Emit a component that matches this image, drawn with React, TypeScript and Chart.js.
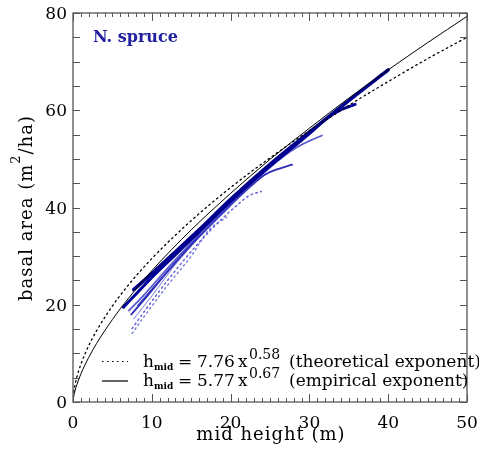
import React, { useEffect, useRef } from "react";
import { Chart, registerables } from "chart.js";
Chart.register(...registerables);

// axis ticks
const xTickValues = [0, 10, 20, 30, 40, 50];
const yTickValues = [0, 20, 40, 60, 80];

// theoretical exponent curve (dotted)
const theoX = [0, 0.1, 0.25, 0.5, 1, 2, 3, 5, 7, 10, 15, 20, 25, 30, 35, 40, 45, 50];
const theoY = [0, 2.04, 3.48, 5.19, 7.76, 11.6, 14.67, 19.74, 24.0, 29.5, 37.3, 44.1, 50.2, 55.8, 61.0, 65.9, 70.6, 75.0];

// empirical exponent curve (solid)
const empX = [0, 0.1, 0.25, 0.5, 1, 2, 3, 5, 7, 10, 15, 20, 25, 30, 35, 40, 45, 50];
const empY = [0, 1.23, 2.28, 3.62, 5.77, 9.18, 12.05, 16.96, 21.25, 27.0, 35.4, 42.9, 49.9, 56.3, 62.5, 68.3, 73.9, 79.3];

// stand trajectories (blue)
const trajAx = [7.7, 10, 13, 16, 20, 25, 30, 35, 40];
const trajAy = [23.1, 26.4, 30.9, 35.4, 41.7, 48.9, 55.5, 62.0, 68.3];
const trajBx = [6.4, 8, 10, 13, 16, 20, 25, 28, 30, 32.2, 34, 35.8];
const trajBy = [19.5, 22.2, 25.6, 30.3, 35.0, 41.2, 48.5, 52.5, 55.2, 58.3, 60.1, 61.2];
const trajCx = [7.1, 9, 12, 16, 20, 24, 26, 28, 30, 31.6];
const trajCy = [18.8, 22.0, 27.5, 34.4, 40.8, 46.8, 49.6, 52.0, 53.7, 54.8];
const trajDx = [7.4, 9, 12, 16, 20, 22.5, 24.4, 26, 27.8];
const trajDy = [18.0, 21.0, 26.8, 34.0, 40.5, 44.3, 46.8, 47.9, 48.8];
const trajEx = [7.5, 9, 12, 16, 19, 21.2, 22.3, 23.9];
const trajEy = [15.1, 18.5, 25.0, 32.8, 37.8, 41.0, 42.4, 43.3];
const trajFx = [7.5, 9, 12, 15, 17.2, 19.5];
const trajFy = [14.1, 17.5, 24.0, 30.0, 35.3, 38.0];
const trajGx = [7.7, 10, 13, 16, 20];
const trajGy = [17.1, 21.8, 28.3, 33.8, 40.3];
const trajHx = [8.2, 10, 13, 16];
const trajHy = [19.8, 23.2, 28.8, 34.3];

const FONT = "'DejaVu Serif', serif";

function series(xs: number[], ys: number[], color: string, width: number, dash: number[] = []) {
  return {
    data: xs.map((x, i) => ({ x, y: ys[i] })),
    borderColor: color,
    backgroundColor: color,
    borderWidth: width,
    borderDash: dash,
    pointRadius: 0,
    fill: false,
    cubicInterpolationMode: "monotone" as const,
    borderCapStyle: "round" as const,
  };
}

const deco = {
  id: "deco",
  afterDatasetsDraw(chart: any) {
    const ctx = chart.ctx as CanvasRenderingContext2D;
    const { left, right, top, bottom } = chart.chartArea;
    const xs = chart.scales.x;
    const ys = chart.scales.y;
    ctx.save();
    // frame
    ctx.strokeStyle = "#555";
    ctx.lineWidth = 1.3;
    ctx.strokeRect(left, top, right - left, bottom - top);
    // ticks
    ctx.lineWidth = 1;
    ctx.beginPath();
    for (let v = 0; v <= 50; v += 1) {
      const px = Math.round(xs.getPixelForValue(v)) + 0.5;
      const len = v % 10 === 0 ? 8 : 4;
      ctx.moveTo(px, bottom);
      ctx.lineTo(px, bottom - len);
      ctx.moveTo(px, top);
      ctx.lineTo(px, top + len);
    }
    for (let v = 0; v <= 80; v += 5) {
      const py = Math.round(ys.getPixelForValue(v)) + 0.5;
      ctx.moveTo(left, py);
      ctx.lineTo(left + 7, py);
      ctx.moveTo(right, py);
      ctx.lineTo(right - 7, py);
    }
    ctx.stroke();

    ctx.fillStyle = "#000";
    ctx.textBaseline = "alphabetic";
    // tick labels
    ctx.font = `17px ${FONT}`;
    ctx.textAlign = "center";
    for (const v of xTickValues) {
      ctx.fillText(String(v), xs.getPixelForValue(v), bottom + 26);
    }
    ctx.textAlign = "right";
    for (const v of yTickValues) {
      ctx.fillText(String(v), left - 6, ys.getPixelForValue(v) + 6);
    }

    // x title
    ctx.font = `18px ${FONT}`;
    (ctx as any).letterSpacing = "1px";
    ctx.textAlign = "center";
    ctx.fillText("mid height (m)", (left + right) / 2 + 1, 440);

    // y title (rotated)
    ctx.save();
    ctx.translate(32, 208);
    ctx.rotate(-Math.PI / 2);
    ctx.textAlign = "left";
    const p1 = "basal area (m";
    const p2 = "/ha)";
    ctx.font = `18px ${FONT}`;
    const w1 = ctx.measureText(p1).width;
    const w3 = ctx.measureText(p2).width;
    ctx.font = `13px ${FONT}`;
    const w2 = ctx.measureText("2").width;
    const total = w1 + w2 + w3;
    let cx = -total / 2;
    ctx.font = `18px ${FONT}`;
    ctx.fillText(p1, cx, 0);
    cx += w1;
    ctx.font = `13px ${FONT}`;
    ctx.fillText("2", cx, -12);
    cx += w2;
    ctx.font = `18px ${FONT}`;
    ctx.fillText(p2, cx, 0);
    ctx.restore();
    (ctx as any).letterSpacing = "0px";

    // annotation
    ctx.textAlign = "left";
    ctx.fillStyle = "#2020a0";
    ctx.font = `bold 16px ${FONT}`;
    ctx.fillText("N. spruce", 93, 41.5);

    // legend
    const rows = [
      { y: 366.5, coef: "7.76", exp: "0.58", note: "(theoretical exponent)", dash: [1.5, 3.5] },
      { y: 386, coef: "5.77", exp: "0.67", note: "(empirical exponent)", dash: [] as number[] },
    ];
    for (const r of rows) {
      ctx.strokeStyle = "#000";
      ctx.lineWidth = 1.2;
      ctx.setLineDash(r.dash);
      ctx.beginPath();
      ctx.moveTo(102, r.y - 5);
      ctx.lineTo(128, r.y - 5);
      ctx.stroke();
      ctx.setLineDash([]);
      ctx.fillStyle = "#000";
      ctx.font = `17px ${FONT}`;
      ctx.fillText("h", 143, r.y);
      ctx.font = `bold 9px ${FONT}`;
      ctx.fillText("mid", 154, r.y + 3);
      ctx.font = `17px ${FONT}`;
      ctx.fillText("=", 178, r.y);
      ctx.fillText(r.coef, 197, r.y);
      ctx.fillText("x", 238, r.y);
      ctx.font = `14px ${FONT}`;
      ctx.fillText(r.exp, 249, r.y - 8);
      ctx.font = `17px ${FONT}`;
      ctx.fillText(r.note, 289, r.y);
    }
    ctx.restore();
  },
};

export default function App() {
  const ref = useRef<HTMLCanvasElement | null>(null);
  useEffect(() => {
    if (!ref.current) return;
    const chart = new Chart(ref.current, {
      type: "line",
      data: {
        datasets: [
          series(empX, empY, "#000", 1),
          series(theoX, theoY, "#000", 1.3, [1.5, 3.5]),
          series(trajAx, trajAy, "#00008c", 3.5),
          series(trajBx, trajBy, "#00009a", 3),
          series(trajHx, trajHy, "#3434c0", 1.2),
          series(trajCx, trajCy, "#5a5ad0", 1.8),
          series(trajDx, trajDy, "#2a2ab4", 1.8),
          series(trajGx, trajGy, "#7878dc", 1),
          series(trajEx, trajEy, "#6060d8", 1.5, [1.5, 3.5]),
          series(trajFx, trajFy, "#8080e0", 1.5, [1.5, 3.5]),
        ] as any,
      },
      options: {
        animation: false,
        responsive: true,
        maintainAspectRatio: false,
        layout: { padding: { top: 13, right: 12, left: 0, bottom: 0 } },
        plugins: { legend: { display: false }, tooltip: { enabled: false } },
        scales: {
          x: {
            type: "linear",
            min: 0,
            max: 50,
            ticks: { display: false },
            grid: { display: false },
            border: { display: false },
            afterFit: (s: any) => {
              s.height = 51;
            },
          },
          y: {
            type: "linear",
            min: 0,
            max: 80,
            ticks: { display: false },
            grid: { display: false },
            border: { display: false },
            afterFit: (s: any) => {
              s.width = 73;
            },
          },
        },
      },
      plugins: [deco],
    });
    return () => chart.destroy();
  }, []);
  return (
    <div style={{ position: "absolute", left: 0, top: 0, width: 479, height: 453, background: "#fff" }}>
      <canvas ref={ref} />
    </div>
  );
}
